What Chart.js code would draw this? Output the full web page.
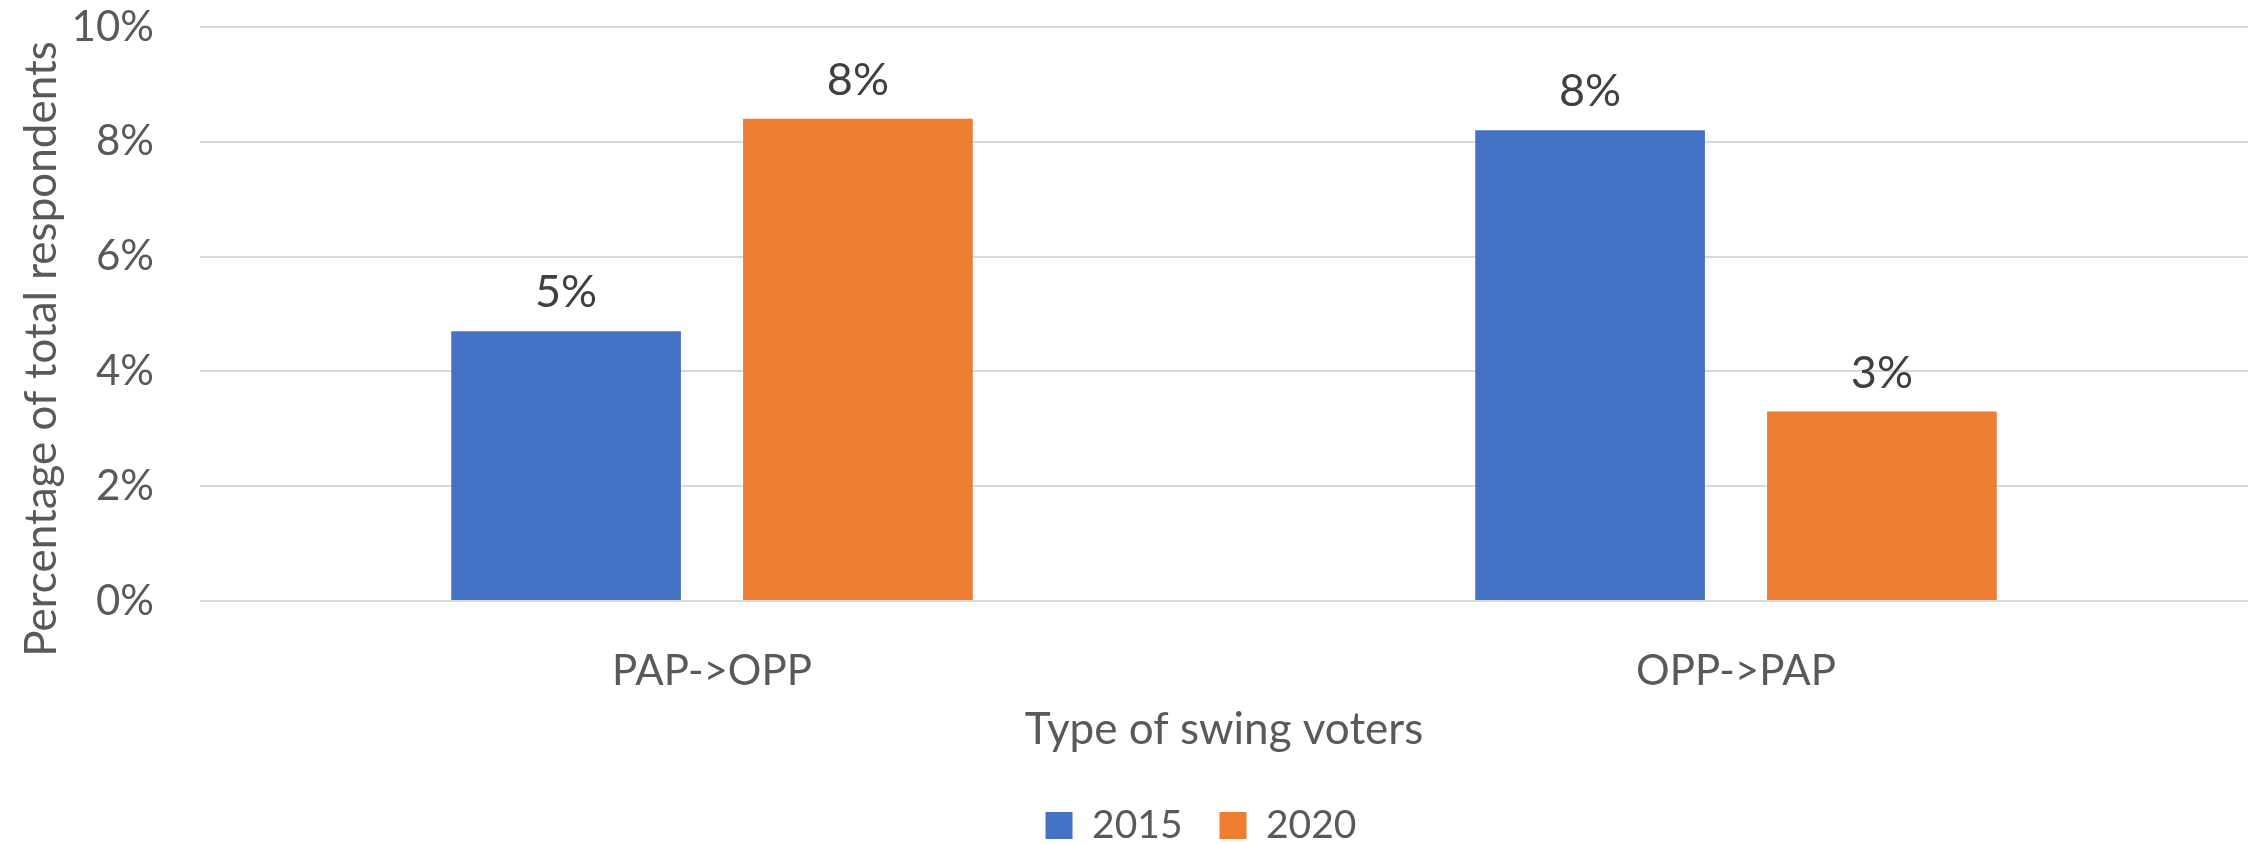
<!DOCTYPE html>
<html>
<head>
<meta charset="utf-8">
<script src="https://cdn.jsdelivr.net/npm/chart.js@4.4.1/dist/chart.umd.min.js"></script>
<style>
  html, body { margin: 0; padding: 0; background: #ffffff; }
</style>
</head>
<body>
<canvas id="swingChart" width="2257" height="844"></canvas>
<script>
// Swing voters chart, share of total respondents by year

const categories = ['PAP->OPP', 'OPP->PAP'];
const seriesNames = ['2015', '2020'];
const values2015 = [4.7, 8.2];
const values2020 = [8.4, 3.3];
const yTicks = [0, 2, 4, 6, 8, 10];
const yTickLabels = ['0%', '2%', '4%', '6%', '8%', '10%'];

const blue = '#4472C4';
const orange = '#ED7D31';
const axisGrey = '#595959';

Chart.defaults.font.family = 'Lato';

// percent labels sitting above each bar
const barLabels = {
    id: 'barLabels',
    afterDatasetsDraw(chart) {
        const ctx = chart.ctx;
        ctx.save();
        ctx.font = '45px Lato';
        ctx.fillStyle = '#404040';
        ctx.textAlign = 'center';
        ctx.textBaseline = 'alphabetic';
        chart.data.datasets.forEach((ds, i) => {
            chart.getDatasetMeta(i).data.forEach((bar, j) => {
                ctx.fillText(Math.round(ds.data[j]) + '%', bar.x, bar.y - 24);
            });
        });
        ctx.restore();
    }
};

// y axis title, a bit lower than the plot centre like the original
const yTitle = {
    id: 'yTitle',
    afterDraw(chart) {
        const ctx = chart.ctx;
        const area = chart.chartArea;
        ctx.save();
        ctx.translate(42, (area.top + area.bottom) / 2 + 35);
        ctx.rotate(-Math.PI / 2);
        ctx.font = '44px Lato';
        ctx.fillStyle = axisGrey;
        ctx.textAlign = 'center';
        ctx.textBaseline = 'middle';
        ctx.fillText('Percentage of total respondents', 0, 0);
        ctx.restore();
    }
};

// nudge the legend right/down to where the original has it
const legendShift = {
    id: 'legendShift',
    afterLayout(chart) {
        const lg = chart.legend;
        lg.left += 77;
        lg.right += 77;
        lg.top += 11;
        lg.bottom += 11;
    }
};

const ctx = document.getElementById('swingChart').getContext('2d');
const swingChart = new Chart(ctx, {
    type: 'bar',
    data: {
        labels: categories,
        datasets: [{
            label: seriesNames[0],
            data: values2015,
            backgroundColor: blue,
            categoryPercentage: 0.57,
            barPercentage: 0.787
        }, {
            label: seriesNames[1],
            data: values2020,
            backgroundColor: orange,
            categoryPercentage: 0.57,
            barPercentage: 0.787
        }]
    },
    options: {
        responsive: false,
        animation: false,
        layout: {
            padding: { top: 27, right: 9, bottom: 0, left: 0 }
        },
        scales: {
            x: {
                grid: { display: false },
                border: { display: false },
                ticks: {
                    color: axisGrey,
                    font: { size: 42 },
                    padding: 37
                },
                title: {
                    display: true,
                    text: 'Type of swing voters',
                    color: axisGrey,
                    font: { size: 44 },
                    padding: { top: 0, bottom: 2 }
                },
                afterFit(scale) {
                    scale.height = 157;
                }
            },
            y: {
                min: 0,
                max: 10,
                grid: {
                    color: '#d9d9d9',
                    lineWidth: 2,
                    drawTicks: false
                },
                border: { display: false },
                ticks: {
                    stepSize: 2,
                    color: axisGrey,
                    font: { size: 42 },
                    padding: 46,
                    callback: (v) => yTickLabels[yTicks.indexOf(v)]
                },
                afterFit(scale) {
                    scale.width = 200;
                    // tick padding would otherwise push the plot top down
                    scale.paddingTop = 0;
                    scale.paddingBottom = 0;
                }
            }
        },
        plugins: {
            legend: {
                position: 'bottom',
                labels: {
                    boxWidth: 27,
                    boxHeight: 27,
                    padding: 37,
                    color: axisGrey,
                    font: { size: 39 }
                }
            },
            tooltip: { enabled: false }
        }
    },
    plugins: [barLabels, yTitle, legendShift]
});
</script>
</body>
</html>
